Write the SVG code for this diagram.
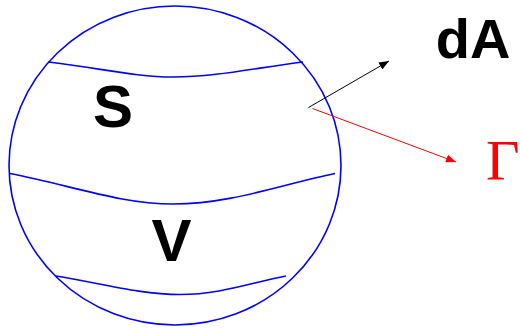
<svg xmlns="http://www.w3.org/2000/svg" width="520" height="328" viewBox="0 0 520 328">
<style>
.blue{fill:none;stroke:#0000ff;stroke-width:1.6}
.lbl{font-family:"Liberation Sans",Arial,sans-serif;font-weight:bold;fill:#000}
</style>
<defs>
<marker id="ab" viewBox="0 0 10 8" refX="10" refY="4" markerWidth="10" markerHeight="8" markerUnits="userSpaceOnUse" orient="auto"><path d="M0,0 L10,4 L0,8 Z" fill="#000"/></marker>
<marker id="ar" viewBox="0 0 10 8" refX="10" refY="4" markerWidth="10" markerHeight="8" markerUnits="userSpaceOnUse" orient="auto"><path d="M0,0 L10,4 L0,8 Z" fill="#ff0000"/></marker>
</defs>
<g id="body">
<ellipse class="blue" cx="175" cy="165.5" rx="166" ry="159.5"/>
<path class="blue" d="M48,62 C100,68 135,77 173,77 C215,77 255,68 303,62"/>
<path class="blue" d="M10,173.5 C70,185 120,204 173,204 C230,204 280,185 335,173.5"/>
<path class="blue" d="M56,276 C100,283 140,294.5 180,294.5 C220,294.5 250,283 286,276"/>
<text class="lbl" x="113" y="126.5" font-size="60" text-anchor="middle">S</text>
<text class="lbl" x="171.5" y="261" font-size="60" text-anchor="middle">V</text>
</g>
<g id="connectors">
<line x1="308.5" y1="107.5" x2="389" y2="61" stroke="#000" stroke-width="1" marker-end="url(#ab)"/>
<line x1="312.5" y1="108.5" x2="456" y2="162" stroke="#ff0000" stroke-width="1" marker-end="url(#ar)"/>
</g>
<g id="dA"><text class="lbl" x="473" y="58" font-size="56" text-anchor="middle">dA</text></g>
<g id="gamma"><text x="486" y="179.5" font-size="58" font-family="'Liberation Serif','Times New Roman',serif" fill="#ff0000">Γ</text></g>
</svg>
